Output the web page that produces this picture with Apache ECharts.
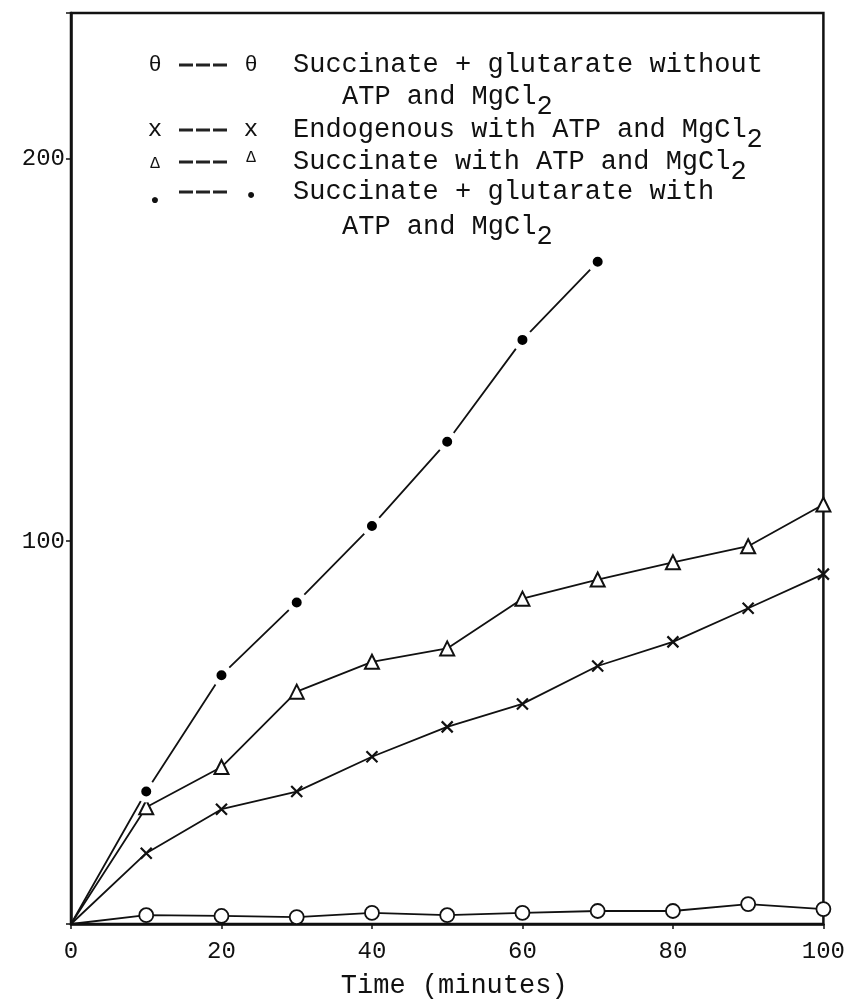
<!DOCTYPE html>
<html>
<head>
<meta charset="utf-8">
<script src="https://cdn.jsdelivr.net/npm/echarts@6/dist/echarts.min.js"></script>
<style>
  html, body { margin: 0; padding: 0; background: #fff; }
  #chart { width: 848px; height: 1004px; }
</style>
</head>
<body>
<div id="chart"></div>
<script>
// Sampling times (minutes)
const times = [0, 10, 20, 30, 40, 50, 60, 70, 80, 90, 100];

// Oxygen uptake for each incubation
const succGlutNoATP   = [0, 2.3, 2.1, 1.8, 2.9, 2.3, 2.9, 3.4, 3.4, 5.2, 3.9];
const endogenousATP   = [0, 18.5, 30, 34.6, 43.7, 51.5, 57.5, 67.4, 73.7, 82.5, 91.4];
const succinateATP    = [0, 30.5, 41, 60.7, 68.5, 72, 85, 90, 94.5, 98.7, 109.6];
const succGlutATP     = [0, 34.6, 65, 84, 104, 126, 152.6, 173];

const xTicks = [0, 20, 40, 60, 80, 100];
const yTicks = [100, 200];

const FONT = '"Liberation Mono", "DejaVu Sans Mono", monospace';

function pairs(vals) {
  return vals.map((v, i) => i === 0
    ? { value: [times[i], v], symbol: 'none' }
    : [times[i], v]);
}

const lineStyle = { color: '#111', width: 1.8 };

const series = [
  {
    name: 'Succinate + glutarate without ATP and MgCl2',
    type: 'line',
    data: pairs(succGlutNoATP),
    symbol: 'circle',
    symbolSize: 14,
    itemStyle: { color: '#fff', borderColor: '#111', borderWidth: 1.8 },
    lineStyle: lineStyle,
    z: 3
  },
  {
    name: 'Endogenous with ATP and MgCl2',
    type: 'line',
    data: pairs(endogenousATP),
    symbol: 'path://M0,0L10,10M10,0L0,10',
    symbolSize: 11,
    itemStyle: { color: 'none', borderColor: '#111', borderWidth: 2.2 },
    lineStyle: lineStyle,
    z: 3
  },
  {
    name: 'Succinate with ATP and MgCl2',
    type: 'line',
    data: pairs(succinateATP),
    symbol: 'triangle',
    symbolSize: 14,
    itemStyle: { color: '#fff', borderColor: '#111', borderWidth: 2 },
    lineStyle: lineStyle,
    z: 3
  },
  {
    name: 'Succinate + glutarate with ATP and MgCl2',
    type: 'line',
    data: pairs(succGlutATP),
    symbol: 'circle',
    symbolSize: 16,
    itemStyle: { color: '#000', borderColor: '#fff', borderWidth: 6 },
    lineStyle: lineStyle,
    z: 3
  }
];

// Typed key in the upper part of the plot
const FS = 27;
const PITCH = FS * 0.6;
const symX1 = 155, dashX0 = 179, dashX1 = 228, symX2 = 251, textX = 293, contX = 342;

function txt(x, y, s, extra) {
  return Object.assign({
    type: 'text', x: x, y: y,
    style: { text: s, font: FS + 'px ' + FONT, fill: '#111', textVerticalAlign: 'middle' }
  }, extra || {});
}
function sym(x, y, s, size) {
  return {
    type: 'text', x: x, y: y,
    style: { text: s, font: (size || 22) + 'px ' + FONT, fill: '#111', textAlign: 'center', textVerticalAlign: 'middle' }
  };
}
function dash(y) {
  return {
    type: 'line',
    shape: { x1: dashX0, y1: y, x2: dashX1, y2: y },
    style: { stroke: '#222', lineWidth: 3, lineDash: [14, 3] }
  };
}
function withSub(x, y, base) {
  return [
    txt(x, y, base),
    txt(x + base.length * PITCH, y + 10, '2')
  ];
}

const rows = [65, 97, 130, 162, 192, 227];
const keyGraphics = [].concat(
  [sym(symX1, rows[0], 'θ'), dash(rows[0]), sym(symX2, rows[0], 'θ'),
   txt(textX, rows[0], 'Succinate + glutarate without')],
  withSub(contX, rows[1], 'ATP and MgCl'),
  [sym(symX1, rows[2], 'x', 24), dash(rows[2]), sym(symX2, rows[2], 'x', 24)],
  withSub(textX, rows[2], 'Endogenous with ATP and MgCl'),
  [sym(symX1, rows[3] + 2, 'Δ', 16), dash(rows[3]), sym(symX2, rows[3] - 4, 'Δ', 16)],
  withSub(textX, rows[3], 'Succinate with ATP and MgCl'),
  [sym(symX1, rows[4] + 8, '●', 14), dash(rows[4]), sym(symX2, rows[4] + 4, '•', 22),
   txt(textX, rows[4], 'Succinate + glutarate with')],
  withSub(contX, rows[5], 'ATP and MgCl')
);

const chart = echarts.init(document.getElementById('chart'), null, { renderer: 'canvas' });
chart.setOption({
  backgroundColor: '#fff',
  animation: false,
  grid: {
    left: 71, right: 22, top: 13, bottom: 75,
    show: true, borderColor: '#111', borderWidth: 2.5
  },
  xAxis: {
    type: 'value',
    min: 0, max: 100, interval: 20,
    name: 'Time (minutes)',
    nameLocation: 'middle',
    nameGap: 48,
    nameTextStyle: { fontFamily: FONT, fontSize: FS, color: '#111', padding: [0, 0, 0, 14] },
    axisLine: { show: true, lineStyle: { color: '#111', width: 2.5 } },
    axisTick: { show: true, length: 5, lineStyle: { color: '#111', width: 1.5 } },
    axisLabel: {
      margin: 16,
      fontFamily: FONT, fontSize: 24, color: '#111',
      formatter: v => (xTicks.indexOf(v) >= 0 ? String(v) : '')
    },
    splitLine: { show: false }
  },
  yAxis: {
    type: 'value',
    min: 0, max: 238, interval: 100,
    axisLine: { show: true, lineStyle: { color: '#111', width: 2.5 } },
    axisTick: { show: true, length: 5, lineStyle: { color: '#111', width: 1.5 } },
    axisLabel: {
      margin: 6,
      fontFamily: FONT, fontSize: 24, color: '#111',
      formatter: v => (yTicks.indexOf(v) >= 0 ? String(v) : '')
    },
    splitLine: { show: false }
  },
  series: series,
  graphic: keyGraphics
});
</script>
</body>
</html>
